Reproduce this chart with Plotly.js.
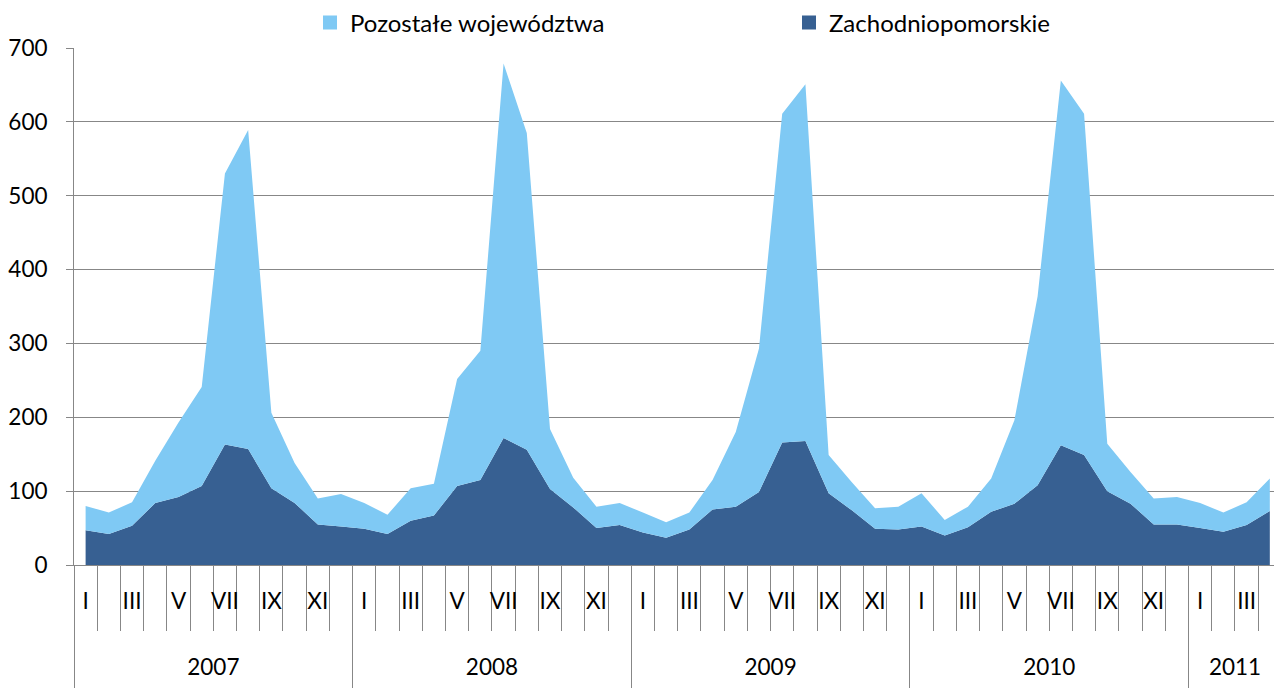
<!DOCTYPE html>
<html><head><meta charset="utf-8">
<script src="https://cdn.plot.ly/plotly-3.0.1.min.js"></script>
<style>html,body{margin:0;padding:0;background:#fff}#chart{width:1274px;height:688px}</style>
</head><body><div id="chart"></div>
<script>
// ---- data ----
const monthLabels = ['I','II','III','IV','V','VI','VII','VIII','IX','X','XI','XII'];
const yearLabels = ['2007','2008','2009','2010','2011'];
const monthsPerYear = [12, 12, 12, 12, 4];
const zachodniopomorskie = [
  47, 42, 53, 84, 92, 107, 163, 157, 104, 84, 55, 52,
  49, 42, 60, 67, 107, 115, 172, 156, 103, 78, 50, 54,
  44, 37, 48, 75, 79, 99, 166, 168, 97, 74, 49, 48,
  52, 40, 51, 72, 83, 108, 162, 149, 100, 83, 55, 55,
  50, 45, 54, 73
];
const pozostale = [
  33, 29, 32, 57, 101, 134, 367, 432, 102, 54, 35, 44,
  35, 26, 44, 43, 145, 175, 507, 429, 81, 40, 29, 30,
  27, 21, 23, 40, 101, 194, 445, 483, 52, 38, 28, 31,
  45, 21, 28, 45, 113, 256, 494, 462, 64, 43, 35, 37,
  34, 26, 31, 44
];
const seriesNames = ['Pozostałe województwa', 'Zachodniopomorskie'];

// ---- derived positions ----
const xs = zachodniopomorskie.map((_, i) => i);
const monthBounds = [], oddCenters = [], oddText = [];
const yearBounds = [], yearCenters = [];
let idx = 0;
monthsPerYear.forEach((m) => {
  yearBounds.push(idx - 0.5);
  yearCenters.push(idx + (m - 1) / 2);
  for (let k = 0; k < m; k++) {
    monthBounds.push(idx - 0.5);
    if (k % 2 === 0) { oddCenters.push(idx); oddText.push(monthLabels[k]); }
    idx++;
  }
});

const LIGHT = '#7fc9f4', DARK = '#376092', GRID = '#878787';
const FONT = {family: 'Lato, sans-serif', size: 22.5, color: '#000'};
const LFONT = {family: 'Lato, sans-serif', size: 24, color: '#000'};
const XR = [-0.5, 51.18];

const traces = [
  {x: xs, y: zachodniopomorskie, type: 'scatter', mode: 'none', stackgroup: 'one',
   fillcolor: DARK, name: seriesNames[1], showlegend: false, hoverinfo: 'skip'},
  {x: xs, y: pozostale, type: 'scatter', mode: 'none', stackgroup: 'one',
   fillcolor: LIGHT, name: seriesNames[0], showlegend: false, hoverinfo: 'skip'},
  {x: [null], y: [null], type: 'scatter', mode: 'markers', name: seriesNames[0],
   marker: {symbol: 'square', size: 14, color: LIGHT}, hoverinfo: 'skip'},
  {x: [null], y: [null], type: 'scatter', mode: 'markers', name: seriesNames[1],
   marker: {symbol: 'square', size: 14, color: DARK}, hoverinfo: 'skip'}
];
['x2', 'x3', 'x4'].forEach(ax => traces.push(
  {x: [null], y: [null], type: 'scatter', mode: 'markers', xaxis: ax, yaxis: 'y',
   showlegend: false, hoverinfo: 'skip', marker: {opacity: 0}}));

const baseX = {range: XR, autorange: false, showgrid: false, zeroline: false, fixedrange: true, type: 'linear'};
const layout = {
  width: 1274, height: 688,
  margin: {l: 74, r: 0, t: 48, b: 123, pad: 0},
  paper_bgcolor: '#fff', plot_bgcolor: '#fff',
  font: FONT,
  showlegend: true,
  legend: {orientation: 'h', xref: 'container', yref: 'container',
           x: 310 / 1274, xanchor: 'left', y: 1 - 23 / 688, yanchor: 'middle',
           entrywidth: 434, font: LFONT, traceorder: 'normal', bgcolor: 'rgba(0,0,0,0)'},
  yaxis: {range: [0, 700], dtick: 100, tick0: 0, showgrid: true, gridcolor: GRID, gridwidth: 1,
          showline: true, linecolor: GRID, linewidth: 1, ticks: 'outside', ticklen: 7,
          tickcolor: GRID, tickfont: FONT, zeroline: false, ticklabelstandoff: 14, fixedrange: true},
  xaxis: Object.assign({}, baseX, {showline: true, linecolor: GRID, linewidth: 1,
          tickmode: 'array', tickvals: monthBounds, ticks: 'outside', ticklen: 65, tickcolor: GRID,
          showticklabels: false}),
  xaxis2: Object.assign({}, baseX, {overlaying: 'x', anchor: 'y', side: 'bottom', showline: false,
          tickmode: 'array', tickvals: oddCenters, ticktext: oddText, ticks: '', tickfont: FONT,
          ticklabelstandoff: 20}),
  xaxis3: Object.assign({}, baseX, {overlaying: 'x', anchor: 'y', side: 'bottom', showline: false,
          tickmode: 'array', tickvals: yearBounds, ticks: 'outside', ticklen: 123, tickcolor: GRID,
          showticklabels: false}),
  xaxis4: Object.assign({}, baseX, {overlaying: 'x', anchor: 'y', side: 'bottom', showline: false,
          tickmode: 'array', tickvals: yearCenters, ticktext: yearLabels, ticks: '', tickfont: FONT,
          ticklabelstandoff: 86})
};

Plotly.newPlot('chart', traces, layout, {staticPlot: true, displayModeBar: false});
</script></body></html>
